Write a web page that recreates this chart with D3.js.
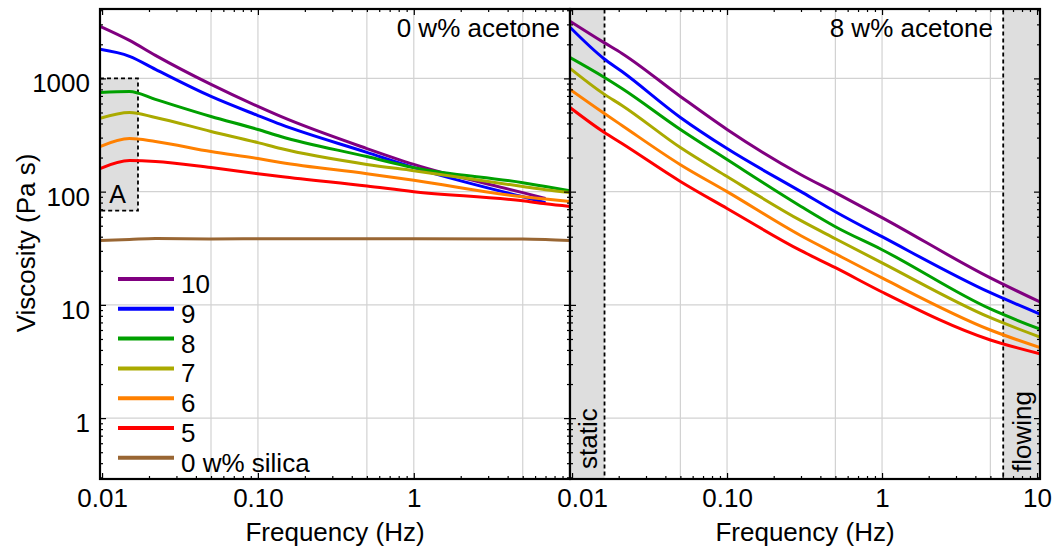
<!DOCTYPE html>
<html><head><meta charset="utf-8">
<script src="https://cdn.jsdelivr.net/npm/d3@7"></script>
<style>body{margin:0;background:#fff} text{font-family:"Liberation Sans", Arial, sans-serif}</style>
</head><body><svg id="c" width="1052" height="552"></svg>
<script>
// ---------- data ----------
const seriesNames = ["10","9","8","7","6","5","0 w% silica"];
const seriesColors = ["#800080","#0000ff","#00a000","#aaaa00","#ff8000","#ff0000","#996633"];

// Left panel: 0 w% acetone
const freqLeft = [0.0097, 0.015, 0.022, 0.05, 0.1, 0.14, 0.5, 1, 5, 7, 10.05];
const left10 = [2886, 2167, 1598, 885, 565, 461, 240, 174, 98, 87, null];
const left9  = [1806, 1565, 1201, 693, 470, 392, 222, 163, 90, 80, null];
const left8  = [752, 767, 652, 461, 354, 307, 204, 163, 120, 111, 102];
const left7  = [443, 500, 452, 340, 271, 240, 174, 153, 111, 104, 98];
const left6  = [250, 294, 277, 226, 196, 181, 144, 126, 90, 86, 82];
const left5  = [160, 188, 185, 163, 144, 136, 112, 100, 83, 78, 74];
const left0  = [37.0, 37.8, 38.6, 38.2, 38.4, 38.4, 38.4, 38.4, 38.2, 37.8, 37.0];

// Right panel: 8 w% acetone
const freqRight = [0.0097, 0.016, 0.021, 0.05, 0.1, 0.3, 0.5, 1, 5, 10.45];
const right10 = [3200, 2080, 1660, 693, 354, 141, 98, 59, 17.3, 10.6];
const right9  = [2830, 1500, 1150, 452, 240, 100, 66.5, 40, 12.8, 8.3];
const right8  = [1530, 1030, 815, 354, 192, 74, 49, 30.7, 9.2, 6.1];
const right7  = [1226, 730, 577, 245, 136, 55.4, 38.4, 23.5, 7.7, 5.2];
const right6  = [800, 495, 384, 173, 100, 40.8, 28.3, 17.3, 6.0, 4.2];
const right5  = [553, 336, 266, 123, 71, 30.1, 21.3, 13.0, 4.9, 3.7];

const xMajor = [0.01, 0.1, 1, 10];
const xMajorLabels = ["0.01", "0.10", "1", "10"];
const xGrid = [0.05, 0.1, 0.5, 1, 5];
const yMajor = [1, 10, 100, 1000];
const yMajorLabels = ["1", "10", "100", "1000"];
const boxA = {f0: 0.0097, f1: 0.017, v0: 68, v1: 1000};
const staticBand = [0.0097, 0.0162];
const flowingBand = [6.05, 10.45];

// ---------- layout ----------
const svg = d3.select("#c");
const T = 9, B = 479;
const xL = d3.scaleLog().domain([0.0097, 10.05]).range([100, 570]);
const xR = d3.scaleLog().domain([0.0097, 10.45]).range([570, 1040]);
const y = d3.scaleLog().domain([0.29, 4100]).range([B, T]);
const FS = 26;

function minorTicks(scale) {
  const [a, b] = scale.domain();
  const out = [];
  for (let e = -3; e <= 4; e++) for (let k = 2; k <= 9; k++) {
    const v = k * Math.pow(10, e);
    if (v > a * 1.0001 && v < b * 0.9999) out.push(v);
  }
  return out;
}

function panel(x, series, freq, opts) {
  const g = svg.append("g");
  const [x0, x1] = x.range();
  g.selectAll(".gx").data(xGrid).join("line")
    .attr("x1", d => x(d)).attr("x2", d => x(d)).attr("y1", T).attr("y2", B)
    .attr("stroke", "#d2d2d2").attr("stroke-width", 1.2);
  g.selectAll(".gy").data(yMajor).join("line")
    .attr("x1", x0).attr("x2", x1).attr("y1", d => y(d)).attr("y2", d => y(d))
    .attr("stroke", "#d2d2d2").attr("stroke-width", 1.2);
  (opts.bands || []).forEach(bd => {
    g.append("rect").attr("x", x(bd.f0)).attr("width", x(bd.f1) - x(bd.f0))
      .attr("y", y(bd.v1)).attr("height", y(bd.v0) - y(bd.v1))
      .attr("fill", "#dedede").attr("stroke", "#000").attr("stroke-width", 1.8)
      .attr("stroke-dasharray", "4,3");
  });
  const id = "clip" + x0;
  svg.append("clipPath").attr("id", id).append("rect")
    .attr("x", x0).attr("y", T).attr("width", x1 - x0).attr("height", B - T);
  const line = d3.line().defined(d => d.v != null)
    .x(d => x(d.f)).y(d => y(d.v)).curve(d3.curveMonotoneX);
  const lg = g.append("g").attr("clip-path", `url(#${id})`);
  series.forEach((s, i) => {
    const pts = freq.map((f, j) => ({f, v: s[j]}));
    lg.append("path").attr("d", line(pts)).attr("fill", "none")
      .attr("stroke", seriesColors[i]).attr("stroke-width", 3)
      .attr("stroke-linejoin", "round");
  });
  const minX = minorTicks(x), minY = minorTicks(y);
  const styleAxis = sel => { sel.select(".domain").remove(); sel.selectAll("line").attr("stroke", "#000").attr("stroke-width", 1.2); };
  const fmtX = v => (opts.hideX || []).includes(v) ? "" : xMajorLabels[xMajor.indexOf(v)];
  const majX = xMajor.filter(v => v >= x.domain()[0] && v <= x.domain()[1]);
  const bx = g.append("g").attr("transform", `translate(0,${B})`)
    .call(d3.axisBottom(x).tickValues(majX).tickSizeInner(-6).tickSizeOuter(0).tickPadding(10).tickFormat(fmtX));
  styleAxis(bx);
  bx.selectAll("text").attr("font-size", FS).attr("font-family", "Liberation Sans, Arial, sans-serif").attr("fill", "#000");
  if (opts.shiftFirst) bx.selectAll("text").filter(d => d === 0.01).attr("dx", opts.shiftFirst);
  g.append("g").attr("transform", `translate(0,${B})`).call(d3.axisBottom(x).tickValues(minX).tickSize(-3).tickFormat("")).call(styleAxis);
  g.append("g").attr("transform", `translate(0,${T})`).call(d3.axisTop(x).tickValues(majX).tickSize(-6).tickFormat("")).call(styleAxis);
  g.append("g").attr("transform", `translate(0,${T})`).call(d3.axisTop(x).tickValues(minX).tickSize(-3).tickFormat("")).call(styleAxis);
  const la = g.append("g").attr("transform", `translate(${x0},0)`)
    .call(d3.axisLeft(y).tickValues(yMajor).tickSizeInner(-6).tickSizeOuter(0).tickPadding(10)
      .tickFormat(opts.yLabels ? (v => yMajorLabels[yMajor.indexOf(v)]) : ""));
  styleAxis(la);
  la.selectAll("text").attr("font-size", FS).attr("font-family", "Liberation Sans, Arial, sans-serif").attr("fill", "#000").attr("dy", "0.52em");
  g.append("g").attr("transform", `translate(${x0},0)`).call(d3.axisLeft(y).tickValues(minY).tickSize(-3).tickFormat("")).call(styleAxis);
  g.append("g").attr("transform", `translate(${x1},0)`).call(d3.axisRight(y).tickValues(yMajor).tickSize(-6).tickFormat("")).call(styleAxis);
  g.append("g").attr("transform", `translate(${x1},0)`).call(d3.axisRight(y).tickValues(minY).tickSize(-3).tickFormat("")).call(styleAxis);
  g.append("rect").attr("x", x0).attr("y", T).attr("width", x1 - x0).attr("height", B - T)
    .attr("fill", "none").attr("stroke", "#000").attr("stroke-width", 2.2);
  g.append("text").attr("x", (x0 + x1) / 2).attr("y", 541).attr("text-anchor", "middle")
    .attr("font-size", FS).text("Frequency (Hz)");
  g.append("text").attr("x", opts.titleX).attr("y", 37).attr("text-anchor", "end")
    .attr("font-size", FS).text(opts.title);
  return g;
}

const gl = panel(xL, [left10, left9, left8, left7, left6, left5, left0], freqLeft, {
  bands: [boxA], yLabels: true, hideX: [10], title: "0 w% acetone", titleX: 560
});
gl.append("text").attr("x", 117.5).attr("y", 203).attr("text-anchor", "middle")
  .attr("font-size", 25).text("A");

const gr = panel(xR, [right10, right9, right8, right7, right6, right5], freqRight, {
  bands: [
    {f0: staticBand[0], f1: staticBand[1], v0: y.domain()[0], v1: y.domain()[1]},
    {f0: flowingBand[0], f1: flowingBand[1], v0: y.domain()[0], v1: y.domain()[1]}
  ],
  yLabels: false, title: "8 w% acetone", titleX: 993, shiftFirst: 10
});
gr.append("text").attr("transform", `translate(597,469) rotate(-90)`)
  .attr("font-size", FS).text("static");
gr.append("text").attr("transform", `translate(1031,472) rotate(-90)`)
  .attr("font-size", FS).text("flowing");

svg.append("text").attr("transform", "translate(35,243) rotate(-90)")
  .attr("text-anchor", "middle").attr("font-size", FS).text("Viscosity (Pa s)");

const leg = svg.append("g");
seriesNames.forEach((n, i) => {
  const yy = 279 + i * 29.8;
  leg.append("line").attr("x1", 118).attr("x2", 174).attr("y1", yy).attr("y2", yy)
    .attr("stroke", seriesColors[i]).attr("stroke-width", 4);
  leg.append("text").attr("x", 181).attr("y", yy + 14).attr("font-size", FS).text(n);
});
</script></body></html>
